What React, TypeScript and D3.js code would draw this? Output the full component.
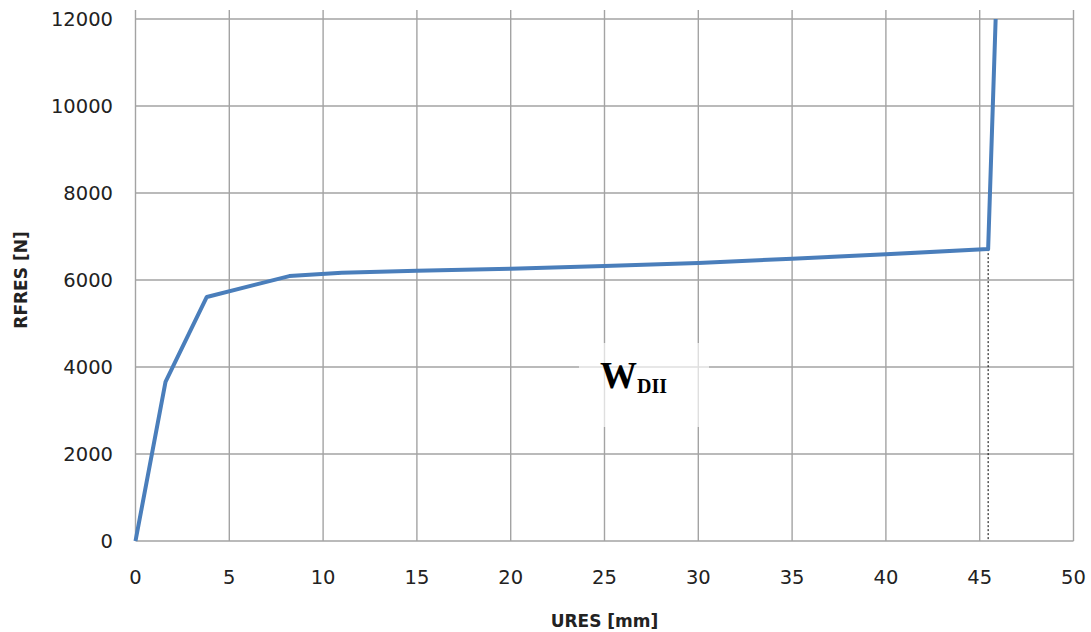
import React from "react";
import * as d3 from "d3";

const uresMm = [0, 1.6, 3.8, 8.2, 11, 15, 20, 25, 30, 35, 40, 45.45, 45.85];
const rfresN = [0, 3660, 5610, 6090, 6165, 6210, 6260, 6320, 6390, 6490, 6590, 6710, 12000];
const xTicks = [0, 5, 10, 15, 20, 25, 30, 35, 40, 45, 50];
const yTicks = [0, 2000, 4000, 6000, 8000, 10000, 12000];
const markerU = 45.45;
const markerF = 6710;

const W = 1091;
const H = 632;
const left = 135.5;
const right = 1073.5;
const top = 19;
const bottom = 541;

export default function App() {
  const x = d3.scaleLinear().domain([0, 50]).range([left, right]);
  const y = d3.scaleLinear().domain([0, 12000]).range([bottom, top]);
  const pts: [number, number][] = uresMm.map((u, i) => [u, rfresN[i]]);
  const line = d3
    .line<[number, number]>()
    .x((d) => x(d[0]))
    .y((d) => y(d[1]));
  const grid = "#a3a3a3";
  return (
    <svg
      width={W}
      height={H}
      style={{ position: "absolute", left: 0, top: 0, background: "#fff" }}
    >
      {yTicks.map((t) => (
        <line key={"h" + t} x1={left} x2={right} y1={y(t)} y2={y(t)} stroke={grid} strokeWidth={1.4} />
      ))}
      {xTicks.map((t) => (
        <line key={"v" + t} x1={x(t)} x2={x(t)} y1={10} y2={bottom} stroke={grid} strokeWidth={1.4} />
      ))}
      {yTicks.map((t) => (
        <text
          key={"yl" + t}
          x={113}
          y={y(t)}
          dy="0.36em"
          textAnchor="end"
          fontFamily="DejaVu Sans"
          fontSize={19.5}
          fill="#222"
        >
          {t}
        </text>
      ))}
      {xTicks.map((t) => (
        <text
          key={"xl" + t}
          x={x(t)}
          y={584}
          textAnchor="middle"
          fontFamily="DejaVu Sans"
          fontSize={19.5}
          fill="#222"
        >
          {t}
        </text>
      ))}
      <line
        x1={x(markerU)}
        x2={x(markerU)}
        y1={y(markerF)}
        y2={bottom}
        stroke="#000"
        strokeWidth={1}
        strokeDasharray="2,2"
      />
      <path d={line(pts) || ""} fill="none" stroke="#4a7ebb" strokeWidth={4} strokeLinejoin="round" />
      <rect x={579} y={343} width={130} height={84} fill="#fff" opacity={0.65} />
      <text x={600} y={388} fontFamily="Liberation Serif" fontWeight="bold" fontSize={37} fill="#000">
        W
        <tspan fontSize={20} dy={5}>
          DII
        </tspan>
      </text>
      <text
        x={604.5}
        y={627}
        textAnchor="middle"
        fontFamily="DejaVu Sans"
        fontWeight="bold"
        fontSize={17}
        fill="#222"
      >
        URES [mm]
      </text>
      <text
        transform={`translate(27,${(top + bottom) / 2}) rotate(-90)`}
        textAnchor="middle"
        fontFamily="DejaVu Sans"
        fontWeight="bold"
        fontSize={17}
        fill="#222"
      >
        RFRES [N]
      </text>
    </svg>
  );
}
